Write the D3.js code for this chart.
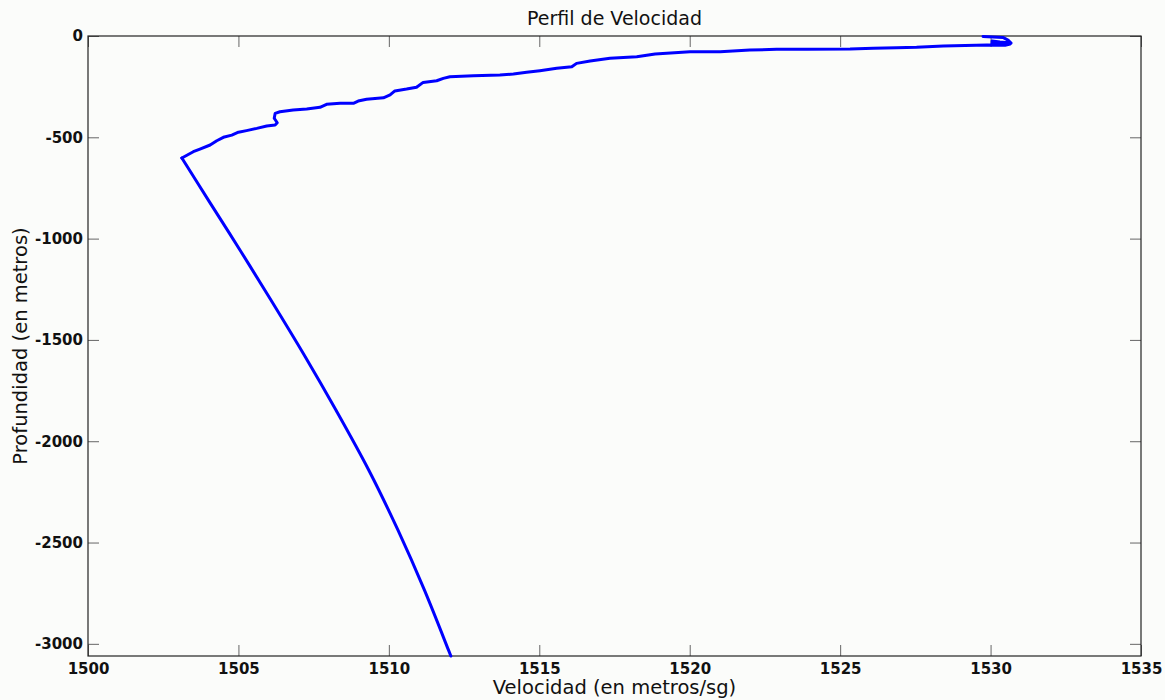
<!DOCTYPE html>
<html>
<head>
<meta charset="utf-8">
<script src="https://cdn.jsdelivr.net/npm/d3@7"></script>
<style>
  html, body { margin: 0; padding: 0; background: #fbfcfa; }
  svg { display: block; }
</style>
</head>
<body>
<svg id="chart" width="1165" height="700"></svg>
<script>
// Sound speed profile: velocity (m/s) against depth (m, negative downward)
// Upper layer (surface to the sound-speed minimum), sampled finely
const velocidadSup = [
  1529.75, 1530.41, 1530.58, 1530.68, 1530.31, 1530.05, 1530.05, 1530.65, 1530.48, 1529.88,
  1528.43, 1527.54, 1526.88, 1526.10, 1525.33, 1523.89, 1522.89, 1522.00, 1521.01, 1520.01,
  1518.85, 1518.24, 1517.35, 1516.69, 1516.24, 1516.08, 1515.58, 1515.02, 1514.58, 1514.14,
  1513.69, 1512.81, 1512.03, 1511.81, 1511.59, 1511.14, 1510.92, 1510.59, 1510.20, 1510.04,
  1509.82, 1509.26, 1508.98, 1508.82, 1508.38, 1507.93, 1507.71, 1507.27, 1506.82, 1506.38,
  1506.22, 1506.19, 1506.29, 1506.22, 1505.94, 1505.61, 1505.27, 1505.00, 1504.78, 1504.50,
  1504.28, 1504.06, 1503.72, 1503.50, 1503.12
];
const profundidadSup = [
  -2, -7, -20, -35, -30, -25, -37, -39.5, -46, -44,
  -49.4, -55.8, -57.7, -60.7, -64.2, -65.6, -65.6, -69.1, -77.5, -77.5,
  -88.8, -102, -110, -123, -135, -152, -159, -171, -179, -188,
  -192, -196, -201, -209, -221, -229, -253, -262, -271, -291,
  -305, -312, -321, -332, -332, -337, -352, -360, -365, -374,
  -382, -406, -428, -439, -444, -456, -467, -475, -489, -500,
  -517, -538, -558, -571, -602
];
// Deep layer (below the minimum), smooth increase with pressure
const velocidadProf = [
  1503.12, 1504.00, 1505.05, 1506.08, 1507.22, 1508.24, 1509.33, 1510.30, 1511.18, 1511.98, 1512.06
];
const profundidadProf = [
  -602, -810, -1056, -1303, -1583, -1846, -2142, -2438, -2734, -3030, -3060
];

const xTicks = [1500, 1505, 1510, 1515, 1520, 1525, 1530, 1535];
const yTicks = [0, -500, -1000, -1500, -2000, -2500, -3000];

const titulo = "Perfil de Velocidad";
const etiquetaX = "Velocidad (en metros/sg)";
const etiquetaY = "Profundidad (en metros)";

const svg = d3.select("#chart");
const W = 1165, H = 700;
const m = { left: 88, right: 1141, top: 36, bottom: 656 };

svg.append("rect").attr("width", W).attr("height", H).attr("fill", "#fbfcfa");

const x = d3.scaleLinear().domain([1500, 1535]).range([m.left, m.right]);
const y = d3.scaleLinear().domain([-3060, 0]).range([m.bottom, m.top]);

const font = "'DejaVu Sans', Verdana, sans-serif";
const fmt = d => String(d);

// Axes with inward ticks on all four sides
const gBottom = svg.append("g").attr("transform", `translate(0,${m.bottom})`)
  .call(d3.axisBottom(x).tickValues(xTicks).tickFormat(fmt).tickSizeInner(-11).tickSizeOuter(0).tickPadding(7));
const gTop = svg.append("g").attr("transform", `translate(0,${m.top})`)
  .call(d3.axisTop(x).tickValues(xTicks).tickFormat("").tickSizeInner(-11).tickSizeOuter(0));
const gLeft = svg.append("g").attr("transform", `translate(${m.left},0)`)
  .call(d3.axisLeft(y).tickValues(yTicks).tickFormat(fmt).tickSizeInner(-11).tickSizeOuter(0).tickPadding(5));
const gRight = svg.append("g").attr("transform", `translate(${m.right},0)`)
  .call(d3.axisRight(y).tickValues(yTicks).tickFormat("").tickSizeInner(-11).tickSizeOuter(0));

[gBottom, gTop, gLeft, gRight].forEach(g => {
  g.select(".domain").remove();
  g.selectAll(".tick line").attr("stroke", "#666").attr("stroke-width", 1);
  g.selectAll(".tick text")
    .attr("fill", "#111")
    .style("font-family", font)
    .style("font-size", "15px")
    .style("font-weight", "bold");
});

// Plot frame
svg.append("rect")
  .attr("x", m.left).attr("y", m.top)
  .attr("width", m.right - m.left).attr("height", m.bottom - m.top)
  .attr("fill", "none").attr("stroke", "#222").attr("stroke-width", 1.2);

// Profile curve: stepped upper layer and smooth deep branch
const superior = velocidadSup.map((v, i) => [v, profundidadSup[i]]);
const profundo = velocidadProf.map((v, i) => [v, profundidadProf[i]]);

const lineaSup = d3.line().x(d => x(d[0])).y(d => y(d[1]));
const lineaProf = d3.line().x(d => x(d[0])).y(d => y(d[1])).curve(d3.curveCatmullRom.alpha(0.5));

[[superior, lineaSup], [profundo, lineaProf]].forEach(([datos, gen]) => {
  svg.append("path")
    .datum(datos)
    .attr("fill", "none")
    .attr("stroke", "#0000ff")
    .attr("stroke-width", 3)
    .attr("stroke-linejoin", "round")
    .attr("stroke-linecap", "round")
    .attr("d", gen);
});

// Title and axis labels
svg.append("text")
  .attr("x", (m.left + m.right) / 2).attr("y", 25)
  .attr("text-anchor", "middle")
  .style("font-family", font).style("font-size", "19px").attr("fill", "#111")
  .text(titulo);

svg.append("text")
  .attr("x", (m.left + m.right) / 2).attr("y", 694)
  .attr("text-anchor", "middle")
  .style("font-family", font).style("font-size", "19.5px").attr("fill", "#111")
  .text(etiquetaX);

svg.append("text")
  .attr("transform", `translate(27,${(m.top + m.bottom) / 2}) rotate(-90)`)
  .attr("text-anchor", "middle")
  .style("font-family", font).style("font-size", "19.5px").attr("fill", "#111")
  .text(etiquetaY);
</script>
</body>
</html>
